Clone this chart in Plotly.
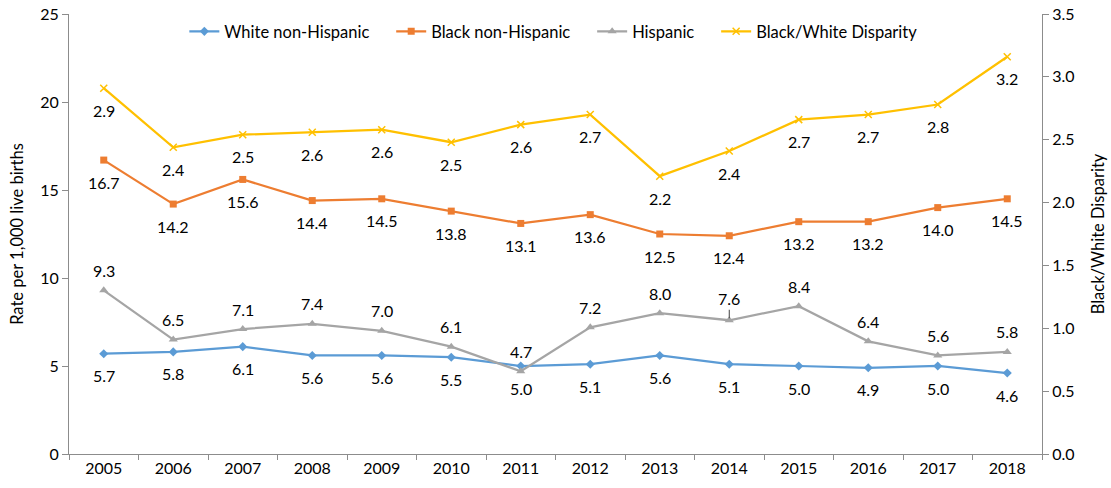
import plotly.graph_objects as go

# Infant mortality rates per 1,000 live births, by race/ethnicity
years = ["2005", "2006", "2007", "2008", "2009", "2010", "2011",
         "2012", "2013", "2014", "2015", "2016", "2017", "2018"]
white = [5.7, 5.8, 6.1, 5.6, 5.6, 5.5, 5.0, 5.1, 5.6, 5.1, 5.0, 4.9, 5.0, 4.6]
black = [16.7, 14.2, 15.6, 14.4, 14.5, 13.8, 13.1, 13.6, 12.5, 12.4, 13.2, 13.2, 14.0, 14.5]
hispanic = [9.3, 6.5, 7.1, 7.4, 7.0, 6.1, 4.7, 7.2, 8.0, 7.6, 8.4, 6.4, 5.6, 5.8]
disparity = [2.91, 2.44, 2.54, 2.56, 2.58, 2.48, 2.62, 2.70, 2.21, 2.41, 2.66, 2.70, 2.78, 3.16]

left_ticks = [0, 5, 10, 15, 20, 25]
right_ticks = [0.0, 0.5, 1.0, 1.5, 2.0, 2.5, 3.0, 3.5]

FONT = "Lato"
TXT = "#000000"
AXIS = "#8c8c8c"
NBSP = "\u00a0"

series = [
    # name, values, colour, marker symbol, marker size, y axis, label shift (px)
    ("White non-Hispanic", white, "#5B9BD5", "diamond", 7, "y", -22),
    ("Black non-Hispanic", black, "#ED7D31", "square", 7, "y", -22),
    ("Hispanic", hispanic, "#A5A5A5", "triangle-up", 8, "y", 20),
    ("Black/White Disparity", disparity, "#FFC000", "x-thin-open", 7, "y2", -22),
]

fig = go.Figure()
annotations = []
for name, vals, color, symbol, msize, yref, shift in series:
    marker = dict(symbol=symbol, size=msize, color=color)
    if symbol.endswith("open"):
        marker["line"] = dict(color=color, width=1.5)
    fig.add_trace(go.Scatter(
        x=years, y=vals, name=name + NBSP * 4, mode="lines+markers",
        line=dict(color=color, width=2.25), marker=marker,
        yaxis=yref, hoverinfo="x+y",
    ))
    for i, v in enumerate(vals):
        s = shift
        if name == "Hispanic" and years[i] == "2014":
            s = 22
        annotations.append(dict(
            x=i, y=v, xref="x", yref=yref, text=f"{v:.1f}",
            showarrow=False, yshift=s, xanchor="center", yanchor="middle",
            font=dict(family=FONT, size=16, color=TXT),
        ))

# short leader line under the 2014 Hispanic label
i14 = years.index("2014")
annotations.append(dict(
    x=i14, y=hispanic[i14], xref="x", yref="y", text="",
    showarrow=True, arrowhead=0, arrowwidth=1, arrowcolor="#404040",
    ax=0, ay=-12, standoff=2,
))

fig.update_layout(
    width=1111, height=488,
    margin=dict(l=69, r=69, t=14, b=34),
    paper_bgcolor="white", plot_bgcolor="white",
    font=dict(family=FONT, size=16, color=TXT),
    showlegend=True,
    legend=dict(
        orientation="h", x=0.506, xanchor="center", y=0.96, yanchor="middle",
        bgcolor="rgba(0,0,0,0)", font=dict(family=FONT, size=16.5, color=TXT),
        itemwidth=30, tracegroupgap=0,
    ),
    annotations=annotations,
    xaxis=dict(
        type="category", range=[-0.5, 13.5], automargin=False,
        showline=True, linecolor=AXIS, linewidth=1,
        ticks="outside", tickson="boundaries", ticklen=5, tickcolor=AXIS,
        showgrid=False, zeroline=False,
        tickfont=dict(family=FONT, size=16, color=TXT),
    ),
    yaxis=dict(
        range=[0, 25], tickvals=left_ticks, automargin=False,
        showline=True, linecolor=AXIS, linewidth=1,
        ticks="outside", ticklen=6, tickcolor=AXIS,
        showgrid=False, zeroline=False,
        tickfont=dict(family=FONT, size=16, color=TXT),
        title=dict(text="Rate per 1,000 live births",
                   font=dict(family=FONT, size=16.5, color=TXT), standoff=12),
    ),
    yaxis2=dict(
        range=[0, 3.5], tickvals=right_ticks, tickformat=".1f",
        overlaying="y", side="right", automargin=False,
        showline=True, linecolor=AXIS, linewidth=1,
        ticks="outside", ticklen=6, tickcolor=AXIS,
        showgrid=False, zeroline=False,
        tickfont=dict(family=FONT, size=16, color=TXT),
        title=dict(text="Black/White Disparity",
                   font=dict(family=FONT, size=16.5, color=TXT), standoff=18),
    ),
)

fig.write_html("out.html")
